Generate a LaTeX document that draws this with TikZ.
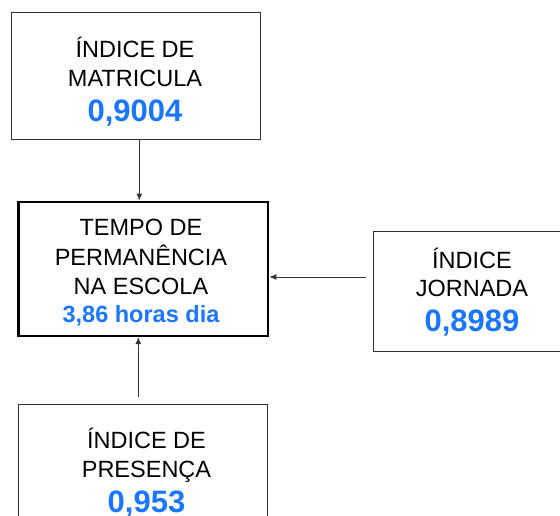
\documentclass[tikz,border=0pt]{standalone}
\usepackage{fontspec}
\setmainfont{Liberation Sans}
\usetikzlibrary{arrows.meta,calc}
\definecolor{valblue}{RGB}{26,117,255}
\definecolor{edgegray}{RGB}{51,51,51}
\begin{document}
\begin{tikzpicture}[x=1pt,y=-1pt,
  box/.style={draw=edgegray,line width=1pt,minimum width=249pt,inner sep=0pt},
  mainbox/.style={draw=black,line width=2.6pt,inner sep=0pt,minimum width=249.3pt,minimum height=134pt},
  txt/.style={align=center,inner sep=0pt,text=black,font=\fontsize{23.5}{28.7}\selectfont},
  arr/.style={draw=edgegray,line width=1pt,-{Latex[length=7pt,width=6pt]}}]
\useasboundingbox (0,0) rectangle (560,515);
\clip (0,0) rectangle (560,515);
% boxes
\node[box,minimum height=127.3pt] (top) at (135.5,76.3) {};
\node[mainbox] (mid) at (143.35,268.8) {};
\node[box,minimum width=197.7pt,minimum height=120pt] (rt) at (472.2,291.7) {};
\node[box,minimum width=249.4pt,minimum height=134pt] (bot) at (143,471.3) {};
% texts
\node[txt] (topT) at (135,81.5) {ÍNDICE DE\\MATRICULA\\[6.3pt]{\bfseries\fontsize{31}{35}\selectfont\color{valblue}0,9004}};
\node[txt,font=\fontsize{23.5}{29.5}\selectfont] (midT) at (141,272.7) {TEMPO DE\\PERMANÊNCIA\\NA ESCOLA\\[-1.8pt]{\bfseries\fontsize{23.5}{27}\selectfont\color{valblue}3,86 horas dia}};
\node[txt] (rtT) at (472,292.2) {ÍNDICE\\JORNADA\\[6.3pt]{\bfseries\fontsize{31}{35}\selectfont\color{valblue}0,8989}};
\node[txt] (botT) at (146.5,472.4) {ÍNDICE DE\\PRESENÇA\\[6.3pt]{\bfseries\fontsize{31}{35}\selectfont\color{valblue}0,953}};
% connectors
\draw[arr] ([xshift=3.8pt]top.south) -- ([xshift=3.8pt]top.south |- mid.north);
\draw[arr] ([xshift=-4.7pt,yshift=7pt]bot.north) -- ([xshift=-4.7pt]bot.north |- mid.south);
\draw[arr] ([xshift=-7pt,yshift=14.7pt]rt.west) -- ([yshift=14.7pt]rt.west -| mid.east);
\end{tikzpicture}
\end{document}
